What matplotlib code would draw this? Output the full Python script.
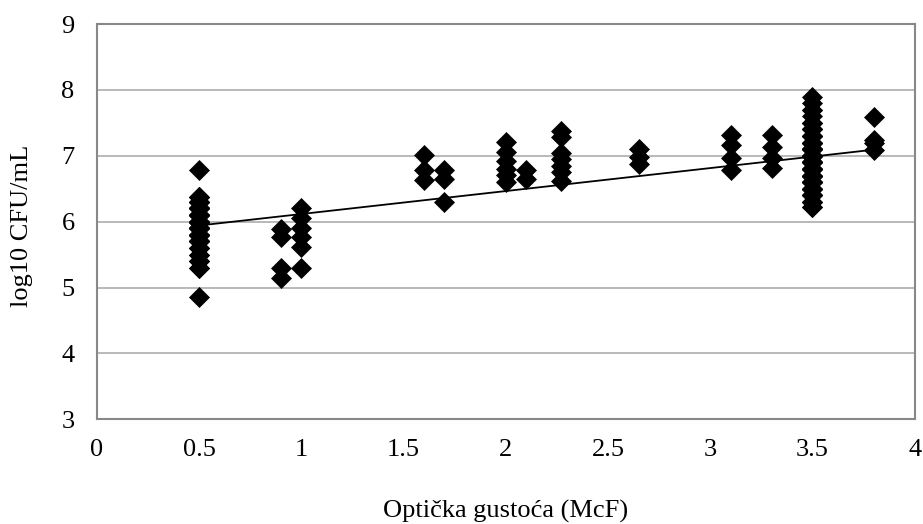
import numpy as np
import matplotlib
matplotlib.use('Agg')
import matplotlib.pyplot as plt

plt.rcParams['font.family'] = ['Liberation Serif', 'DejaVu Serif']

# log10 CFU/mL for each McFarland density.
# The two crowded columns (0.5 and 3.5 McF) overlap heavily, so they are kept
# as read levels plus an estimated number of samples at each level.
v_05 = [4.85, 5.30, 5.40, 5.50, 5.60, 5.70, 5.80, 5.90, 6.00, 6.10, 6.20, 6.30, 6.38, 6.78]
n_05 = [1, 2, 3, 2, 3, 6, 8, 9, 10, 9, 8, 5, 3, 1]
v_35 = [6.22, 6.30, 6.40, 6.50, 6.60, 6.70, 6.80, 6.90, 7.00, 7.10, 7.20, 7.30,
        7.40, 7.50, 7.60, 7.70, 7.80, 7.89]
n_35 = [2, 3, 5, 6, 7, 8, 9, 9, 9, 9, 6, 5, 4, 3, 1, 2, 1, 1]

y_09 = [5.89, 5.76, 5.29, 5.14]
y_10 = [6.21, 6.05, 5.91, 5.77, 5.61, 5.29]
y_16 = [7.01, 6.78, 6.64]
y_17 = [6.79, 6.65, 6.30]
y_20 = [7.21, 7.06, 6.92, 6.80, 6.71, 6.60]
y_21 = [6.78, 6.65]
y_227 = [7.38, 7.28, 7.05, 6.95, 6.85, 6.75, 6.62]
y_265 = [7.10, 6.98, 6.88]
y_31 = [7.31, 7.16, 6.96, 6.78]
y_33 = [7.31, 7.13, 6.96, 6.82]
y_38 = [7.59, 7.24, 7.19, 7.09]

y_05 = np.repeat(v_05, n_05)
y_35 = np.repeat(v_35, n_35)

x_levels = [0.5, 0.9, 1.0, 1.6, 1.7, 2.0, 2.1, 2.27, 2.65, 3.1, 3.3, 3.5, 3.8]
groups = [y_05, y_09, y_10, y_16, y_17, y_20, y_21, y_227, y_265, y_31, y_33, y_35, y_38]
xs = np.concatenate([[xv] * len(g) for xv, g in zip(x_levels, groups)])
ys = np.concatenate(groups)

fig = plt.figure(figsize=(9.23, 5.24), dpi=100)
ax = fig.add_axes([0.105, 0.2, 0.886, 0.754])

ax.plot(xs, ys, linestyle='none', marker='D', markersize=10,
        markerfacecolor='black', markeredgecolor='black', markeredgewidth=0.5, zorder=3)

# linear trend line over the data range
slope, intercept = np.polyfit(xs, ys, 1)
xl = np.array([xs.min(), xs.max()])
ax.plot(xl, slope * xl + intercept, color='black', linewidth=1.3, zorder=4)

ax.set_xlim(0, 4)
ax.set_ylim(3, 9)
ax.set_xticks(np.arange(0, 4.01, 0.5))
ax.set_xticklabels(['0', '0.5', '1', '1.5', '2', '2.5', '3', '3.5', '4'])
ax.set_yticks(np.arange(3, 9.01, 1))
ax.yaxis.grid(True, color='#b3b3b3', linewidth=1.3)
ax.set_axisbelow(True)
ax.tick_params(axis='both', length=0, labelsize=19)
ax.tick_params(axis='x', pad=14)
ax.tick_params(axis='y', pad=16)

for sp in ax.spines.values():
    sp.set_color('#888888')
    sp.set_linewidth(1.5)

ax.set_xlabel('Optička gustoća (McF)', fontsize=19)
ax.set_ylabel('log10 CFU/mL', fontsize=19)
ax.xaxis.set_label_coords(0.5, -0.205)
ax.yaxis.set_label_coords(-0.078, 0.49)

fig.savefig('out.png', dpi=100)
